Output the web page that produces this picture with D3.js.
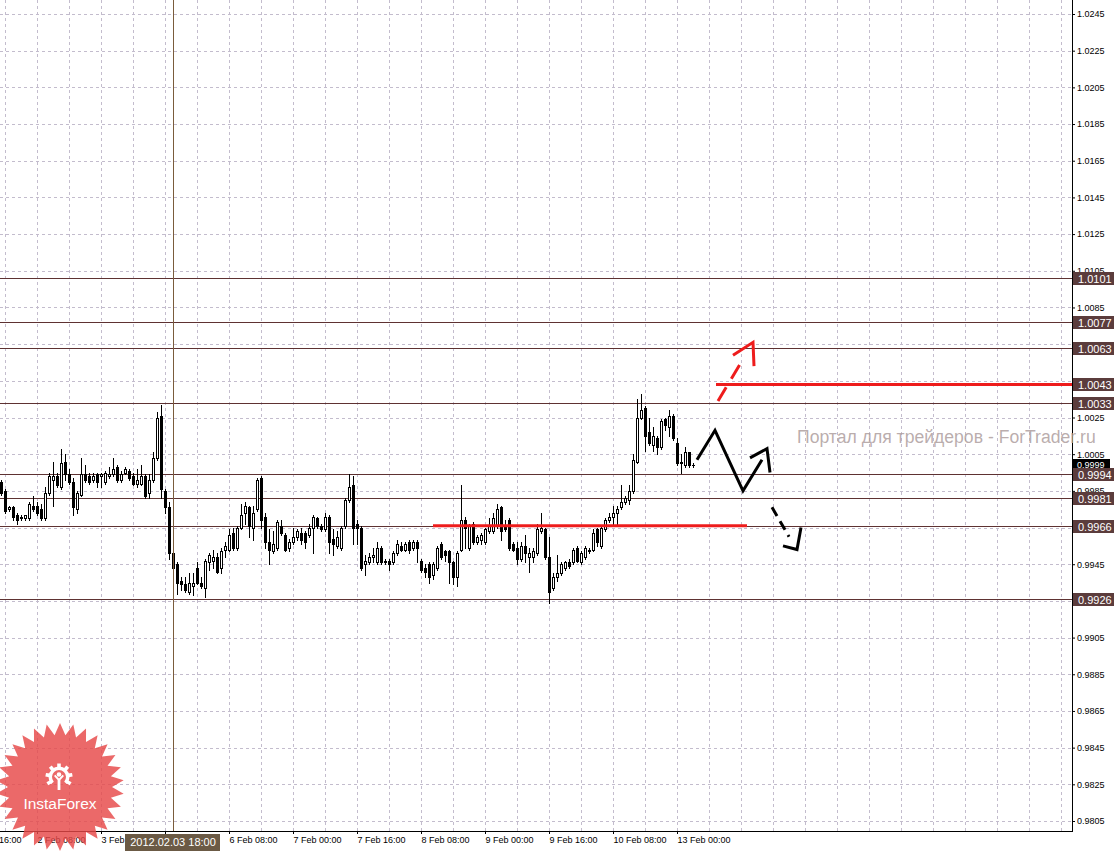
<!DOCTYPE html>
<html>
<head>
<meta charset="utf-8">
<script src="https://cdn.jsdelivr.net/npm/d3@7"></script>
<style>
  body { margin: 0; background: #fff; }
  svg { display: block; font-family: "Liberation Sans", Arial, sans-serif; }
</style>
</head>
<body>
<div id="chart"></div>
<script>
// USD/CHF H1 candles, one per bar index
const opens = [
  0.9990,0.9985,0.9975,0.9976,0.9972,0.9970,0.9970,0.9970,0.9977,0.9977,
  0.9975,0.9970,0.9984,0.9991,0.9993,0.9987,1.0001,0.9994,0.9990,0.9975,
  0.9983,0.9994,0.9993,0.9991,0.9994,0.9993,0.9990,0.9993,0.9994,0.9998,
  0.9991,0.9995,0.9996,0.9993,0.9989,0.9989,0.9993,0.9984,0.9991,1.0003,
  1.0026,0.9985,0.9976,0.9951,0.9945,0.9936,0.9934,0.9930,0.9933,0.9943,
  0.9935,0.9932,0.9946,0.9947,0.9949,0.9943,0.9953,0.9953,0.9962,0.9954,
  0.9965,0.9973,0.9976,0.9965,0.9975,0.9992,0.9971,0.9957,0.9952,0.9954,
  0.9966,0.9961,0.9954,0.9957,0.9960,0.9962,0.9962,0.9961,0.9965,0.9970,
  0.9966,0.9964,0.9971,0.9959,0.9955,0.9954,0.9966,0.9980,0.9988,0.9967,
  0.9965,0.9945,0.9946,0.9949,0.9946,0.9954,0.9947,0.9947,0.9946,0.9951,
  0.9955,0.9953,0.9957,0.9954,0.9957,0.9947,0.9943,0.9945,0.9939,0.9943,
  0.9956,0.9952,0.9952,0.9946,0.9938,0.9953,0.9969,0.9954,0.9967,0.9957,
  0.9958,0.9957,0.9963,0.9963,0.9966,0.9976,0.9966,0.9969,0.9956,0.9954,
  0.9948,0.9955,0.9949,0.9949,0.9951,0.9963,0.9964,0.9949,0.9932,0.9938,
  0.9940,0.9943,0.9946,0.9946,0.9954,0.9946,0.9949,0.9953,0.9953,0.9964,
  0.9955,0.9964,0.9969,0.9971,0.9973,0.9976,0.9979,0.9980,0.9985,1.0001,
  1.0025,1.0030,1.0017,1.0010,1.0014,1.0009,1.0024,1.0020,1.0026,1.0011,
  1.0000,0.9999,1.0006,0.9999
];
const highs = [
  0.9991,0.9986,0.9977,0.9977,0.9973,0.9972,0.9972,0.9979,0.9982,0.9979,
  0.9978,0.9987,0.9995,1.0001,0.9995,1.0008,1.0005,0.9997,0.9992,0.9985,
  1.0003,0.9999,0.9995,0.9995,0.9995,0.9995,0.9996,0.9998,1.0003,0.9999,
  0.9996,0.9998,0.9997,0.9995,0.9997,0.9999,0.9994,0.9994,1.0006,1.0028,
  1.0032,0.9986,0.9979,0.9952,0.9946,0.9938,0.9938,0.9940,0.9940,0.9946,
  0.9938,0.9948,0.9951,0.9953,0.9951,0.9954,0.9957,0.9964,0.9965,0.9966,
  0.9978,0.9979,0.9977,0.9977,0.9992,0.9993,0.9973,0.9964,0.9963,0.9969,
  0.9969,0.9962,0.9959,0.9965,0.9964,0.9965,0.9963,0.9967,0.9972,0.9971,
  0.9967,0.9973,0.9972,0.9964,0.9963,0.9966,0.9981,0.9994,0.9993,0.9969,
  0.9966,0.9950,0.9951,0.9954,0.9957,0.9955,0.9948,0.9948,0.9952,0.9958,
  0.9957,0.9957,0.9958,0.9958,0.9958,0.9948,0.9945,0.9946,0.9946,0.9955,
  0.9957,0.9953,0.9953,0.9947,0.9952,0.9988,0.9971,0.9967,0.9968,0.9961,
  0.9962,0.9965,0.9970,0.9973,0.9978,0.9977,0.9969,0.9970,0.9957,0.9957,
  0.9957,0.9961,0.9954,0.9954,0.9967,0.9973,0.9965,0.9960,0.9940,0.9950,
  0.9946,0.9947,0.9948,0.9954,0.9955,0.9952,0.9955,0.9954,0.9964,0.9965,
  0.9966,0.9970,0.9973,0.9977,0.9977,0.9988,0.9982,0.9988,1.0005,1.0035,
  1.0038,1.0031,1.0025,1.0020,1.0015,1.0024,1.0025,1.0029,1.0027,1.0014,
  1.0005,1.0009,1.0006,1.0000
];
const lows = [
  0.9983,0.9973,0.9974,0.9969,0.9967,0.9969,0.9969,0.9969,0.9974,0.9972,
  0.9969,0.9969,0.9983,0.9977,0.9987,0.9986,0.9991,0.9989,0.9972,0.9973,
  0.9982,0.9990,0.9989,0.9990,0.9987,0.9987,0.9989,0.9992,0.9993,0.9990,
  0.9990,0.9994,0.9991,0.9988,0.9987,0.9988,0.9981,0.9981,0.9990,1.0002,
  0.9981,0.9973,0.9948,0.9942,0.9929,0.9931,0.9930,0.9929,0.9928,0.9934,
  0.9932,0.9927,0.9942,0.9943,0.9940,0.9940,0.9949,0.9952,0.9953,0.9953,
  0.9964,0.9967,0.9960,0.9958,0.9974,0.9965,0.9954,0.9945,0.9951,0.9953,
  0.9961,0.9952,0.9952,0.9956,0.9958,0.9956,0.9954,0.9960,0.9951,0.9965,
  0.9963,0.9963,0.9951,0.9950,0.9954,0.9953,0.9965,0.9979,0.9956,0.9956,
  0.9942,0.9939,0.9945,0.9946,0.9945,0.9945,0.9945,0.9942,0.9945,0.9950,
  0.9952,0.9952,0.9951,0.9953,0.9946,0.9941,0.9938,0.9935,0.9937,0.9942,
  0.9948,0.9947,0.9935,0.9934,0.9933,0.9952,0.9954,0.9953,0.9956,0.9956,
  0.9956,0.9956,0.9962,0.9962,0.9965,0.9958,0.9963,0.9953,0.9952,0.9945,
  0.9947,0.9946,0.9941,0.9946,0.9950,0.9962,0.9948,0.9924,0.9931,0.9936,
  0.9939,0.9942,0.9943,0.9945,0.9946,0.9945,0.9948,0.9951,0.9952,0.9955,
  0.9954,0.9963,0.9968,0.9967,0.9966,0.9975,0.9978,0.9978,0.9984,1.0000,
  1.0024,1.0007,1.0010,1.0007,1.0005,1.0008,1.0018,1.0015,1.0013,0.9999,
  0.9995,0.9998,0.9998,0.9998
];
const closes = [
  0.9984,0.9974,0.9976,0.9971,0.9969,0.9971,0.9972,0.9978,0.9975,0.9973,
  0.9970,0.9984,0.9993,0.9993,0.9988,1.0000,0.9994,0.9990,0.9976,0.9984,
  0.9994,0.9991,0.9990,0.9993,0.9990,0.9994,0.9995,0.9994,0.9997,0.9991,
  0.9994,0.9997,0.9992,0.9989,0.9991,0.9993,0.9982,0.9991,1.0003,1.0025,
  0.9986,0.9976,0.9951,0.9943,0.9935,0.9934,0.9931,0.9935,0.9935,0.9935,
  0.9933,0.9947,0.9950,0.9949,0.9941,0.9952,0.9955,0.9961,0.9954,0.9965,
  0.9972,0.9977,0.9966,0.9973,0.9991,0.9969,0.9957,0.9953,0.9956,0.9968,
  0.9962,0.9953,0.9957,0.9960,0.9963,0.9958,0.9957,0.9965,0.9971,0.9966,
  0.9964,0.9971,0.9957,0.9956,0.9960,0.9965,0.9980,0.9987,0.9965,0.9965,
  0.9943,0.9947,0.9949,0.9950,0.9954,0.9946,0.9946,0.9945,0.9951,0.9956,
  0.9953,0.9956,0.9953,0.9957,0.9954,0.9942,0.9941,0.9938,0.9945,0.9954,
  0.9949,0.9950,0.9946,0.9938,0.9951,0.9969,0.9965,0.9966,0.9957,0.9960,
  0.9961,0.9964,0.9966,0.9970,0.9975,0.9963,0.9964,0.9954,0.9953,0.9948,
  0.9955,0.9951,0.9951,0.9952,0.9964,0.9965,0.9949,0.9930,0.9938,0.9940,
  0.9945,0.9946,0.9944,0.9953,0.9947,0.9951,0.9954,0.9952,0.9962,0.9957,
  0.9965,0.9969,0.9971,0.9973,0.9975,0.9979,0.9981,0.9985,1.0002,1.0025,
  1.0029,1.0015,1.0011,1.0015,1.0009,1.0023,1.0021,1.0026,1.0014,1.0000,
  1.0001,1.0006,0.9999,0.9999
];

const priceTicks = [1.0245, 1.0225, 1.0205, 1.0185, 1.0165, 1.0145, 1.0125, 1.0105,
  1.0085, 1.0065, 1.0045, 1.0025, 1.0005, 0.9985, 0.9965, 0.9945, 0.9925, 0.9905,
  0.9885, 0.9865, 0.9845, 0.9825, 0.9805];

const timeLabels = ["1 Feb 16:00", "2 Feb 08:00", "3 Feb 00:00", "3 Feb 16:00", "6 Feb 08:00",
  "7 Feb 00:00", "7 Feb 16:00", "8 Feb 08:00", "9 Feb 00:00", "9 Feb 16:00",
  "10 Feb 08:00", "13 Feb 00:00"];
const timeLabelBars = [-7, 9, 25, 41, 57, 73, 89, 105, 121, 137, 153, 169];

const levels = [1.0101, 1.0077, 1.0063, 1.0033, 0.9994, 0.9981, 0.9966, 0.9926];
const redLevel = 1.0043;
const currentPrice = 0.9999;
const crosshairBar = 43;
const crosshairLabel = "2012.02.03 18:00";

// hand drawn forecast marks: [bar index, price]
const supportLine = [[108, 0.9966], [186.5, 0.9966]];
const resistanceLine = [[178.75, 1.0043], [267.75, 1.0043]];
const redArrowShaft = [[179.25, 1.0034], [185, 1.0055]];
const redArrowHead = [[183, 1.0059], [188, 1.0066], [188.25, 1.0053]];
const blackZigzag = [[174, 1.0002], [178.5, 1.0018], [185.5, 0.9985], [190.25, 1.0002]];
const blackZigzagHead = [[187.25, 1.0003], [191.5, 1.0008], [192.25, 0.9995]];
const blackDashShaft = [[192.75, 0.9976], [197, 0.9960]];
const blackDashHead = [[195.5, 0.9955], [199, 0.9953], [200, 0.9965]];

const width = 1114, height = 851;
const plotRight = 1072, plotBottom = 831;
const levelColor = "#5e3232";
const gridColor = "#c3bccd";

const svg = d3.select("#chart").append("svg")
  .attr("width", width)
  .attr("height", height);

svg.append("rect").attr("width", width).attr("height", height).attr("fill", "#fff");

// one bar every 4 px
const xScale = d3.scaleLinear().domain([0, 1]).range([1, 5]);
const yScale = d3.scaleLinear().domain([0.9805, 1.0245]).range([821, 14]);
const X = v => Math.round(xScale(v));
const Y = v => Math.round(yScale(v));

// grid
const grid = svg.append("g")
  .attr("stroke", gridColor)
  .attr("stroke-dasharray", "3,3")
  .attr("shape-rendering", "crispEdges");

grid.selectAll("line.h")
  .data(priceTicks)
  .join("line")
  .attr("class", "h")
  .attr("x1", 0).attr("x2", plotRight)
  .attr("y1", d => Y(d) + 0.5).attr("y2", d => Y(d) + 0.5);

grid.selectAll("line.v")
  .data(d3.range(1, 268, 8))
  .join("line")
  .attr("class", "v")
  .attr("x1", d => X(d) + 0.5).attr("x2", d => X(d) + 0.5)
  .attr("y1", 0).attr("y2", plotBottom);

// horizontal levels
svg.append("g")
  .selectAll("line")
  .data(levels)
  .join("line")
  .attr("x1", 0).attr("x2", plotRight)
  .attr("y1", d => Y(d) + 0.5).attr("y2", d => Y(d) + 0.5)
  .attr("stroke", levelColor)
  .attr("shape-rendering", "crispEdges");

// candles
const bars = opens.map((o, i) => ({ i, o, h: highs[i], l: lows[i], c: closes[i] }));
const candles = svg.append("g").attr("shape-rendering", "crispEdges");

candles.selectAll("rect.wick")
  .data(bars)
  .join("rect")
  .attr("class", "wick")
  .attr("x", d => X(d.i))
  .attr("width", 1)
  .attr("y", d => Y(d.h))
  .attr("height", d => Y(d.l) - Y(d.h) + 1)
  .attr("fill", "#000");

candles.selectAll("rect.body")
  .data(bars)
  .join("rect")
  .attr("class", "body")
  .attr("x", d => X(d.i) - 1)
  .attr("width", 3)
  .attr("y", d => Y(Math.max(d.o, d.c)))
  .attr("height", d => Y(Math.min(d.o, d.c)) - Y(Math.max(d.o, d.c)) + 1)
  .attr("fill", "#000");

candles.selectAll("rect.hollow")
  .data(bars.filter(d => d.c > d.o && Y(d.o) - Y(d.c) > 1))
  .join("rect")
  .attr("class", "hollow")
  .attr("x", d => X(d.i))
  .attr("width", 1)
  .attr("y", d => Y(d.c) + 1)
  .attr("height", d => Y(d.o) - Y(d.c) - 1)
  .attr("fill", "#fff");

// crosshair
svg.append("line")
  .attr("x1", X(crosshairBar) + 0.5).attr("x2", X(crosshairBar) + 0.5)
  .attr("y1", 0).attr("y2", plotBottom)
  .attr("stroke", "#7a5c3c")
  .attr("shape-rendering", "crispEdges");

// forecast marks
const line = d3.line().x(d => xScale(d[0])).y(d => yScale(d[1]));

svg.append("path").attr("d", line(supportLine))
  .attr("stroke", "#ee1c1c").attr("stroke-width", 3).attr("fill", "none");
svg.append("path").attr("d", line(resistanceLine))
  .attr("stroke", "#ee1c1c").attr("stroke-width", 3).attr("fill", "none");

svg.append("path").attr("d", line(redArrowShaft))
  .attr("stroke", "#ee1c1c").attr("stroke-width", 3).attr("fill", "none")
  .attr("stroke-dasharray", "16,10");
svg.append("path").attr("d", line(redArrowHead))
  .attr("stroke", "#ee1c1c").attr("stroke-width", 3).attr("fill", "none");

svg.append("path").attr("d", line(blackZigzag))
  .attr("stroke", "#000").attr("stroke-width", 3).attr("fill", "none");
svg.append("path").attr("d", line(blackZigzagHead))
  .attr("stroke", "#000").attr("stroke-width", 3).attr("fill", "none");

svg.append("path").attr("d", line(blackDashShaft))
  .attr("stroke", "#000").attr("stroke-width", 3).attr("fill", "none")
  .attr("stroke-dasharray", "10,6");
svg.append("path").attr("d", line(blackDashHead))
  .attr("stroke", "#000").attr("stroke-width", 3).attr("fill", "none");

// axes
const yAxis = d3.axisRight(yScale)
  .tickValues(priceTicks)
  .tickFormat(d3.format(".4f"))
  .tickSize(3)
  .tickPadding(2);

const yAxisG = svg.append("g")
  .attr("transform", `translate(${plotRight},0)`)
  .call(yAxis);
yAxisG.select(".domain").remove();
yAxisG.attr("font-family", null).attr("font-size", 9);
yAxisG.selectAll("text").attr("fill", "#000");

const xAxis = d3.axisBottom(xScale)
  .tickValues(timeLabelBars)
  .tickFormat((d, i) => timeLabels[i])
  .tickSize(3)
  .tickPadding(3);

const xAxisG = svg.append("g")
  .attr("transform", `translate(0,${plotBottom})`)
  .call(xAxis);
xAxisG.select(".domain").remove();
xAxisG.attr("font-family", null).attr("font-size", 9);
xAxisG.selectAll("text").attr("text-anchor", "start").attr("dx", 0).attr("fill", "#000");

svg.append("line")
  .attr("x1", plotRight + 0.5).attr("x2", plotRight + 0.5)
  .attr("y1", 0).attr("y2", plotBottom + 1)
  .attr("stroke", "#000").attr("shape-rendering", "crispEdges");
svg.append("line")
  .attr("x1", 0).attr("x2", plotRight + 1)
  .attr("y1", plotBottom + 0.5).attr("y2", plotBottom + 0.5)
  .attr("stroke", "#000").attr("shape-rendering", "crispEdges");

// price labels of the levels
const fmt = d3.format(".4f");

svg.append("rect")
  .attr("x", plotRight + 1).attr("y", Y(currentPrice) - 6)
  .attr("width", 37).attr("height", 10)
  .attr("fill", "#000");
svg.append("text")
  .attr("x", plotRight + 5).attr("y", Y(currentPrice) + 3)
  .attr("font-size", 9).attr("fill", "#fff")
  .text(fmt(currentPrice));

const levelTags = svg.append("g")
  .selectAll("g")
  .data(levels.concat([redLevel]))
  .join("g")
  .attr("transform", d => `translate(${plotRight + 1},${Y(d)})`);

levelTags.append("rect")
  .attr("x", 0).attr("y", -6)
  .attr("width", 41).attr("height", 13)
  .attr("fill", "#5b3c3c");
levelTags.append("text")
  .attr("x", 5).attr("y", 4.5)
  .attr("font-size", 11).attr("fill", "#fff")
  .text(d => fmt(d));

// crosshair time tag
const chX = X(crosshairBar);
svg.append("rect")
  .attr("x", chX - 48).attr("y", plotBottom + 3)
  .attr("width", 95).attr("height", 17)
  .attr("fill", "#6b5a45");
svg.append("text")
  .attr("x", chX).attr("y", plotBottom + 15)
  .attr("text-anchor", "middle")
  .attr("font-size", 11).attr("fill", "#fff")
  .text(crosshairLabel);

// watermark
svg.append("text")
  .attr("x", 797).attr("y", 443)
  .attr("font-size", 17.6)
  .attr("fill", "#ae9e9e")
  .attr("fill-opacity", 0.85)
  .text("Портал для трейдеров - ForTrader.ru");

// InstaForex badge
const badge = svg.append("g").attr("transform", "translate(60,787)");
const starPts = d3.range(60).map(k => [k * Math.PI / 30, k % 2 ? 52 : 64]);
badge.append("path")
  .attr("d", d3.lineRadial().curve(d3.curveLinearClosed)(starPts))
  .attr("fill", "#e64848")
  .attr("fill-opacity", 0.82);

const icon = badge.append("g").attr("transform", "translate(-1,-10)").attr("fill", "#fff");
icon.append("path")
  .attr("d", d3.arc().innerRadius(7).outerRadius(10.5).startAngle(-2.3).endAngle(2.3)());
d3.range(-2.1, 2.2, 0.7).forEach(a => {
  icon.append("rect")
    .attr("x", -1.8).attr("y", -13.5)
    .attr("width", 3.6).attr("height", 4)
    .attr("transform", `rotate(${a * 180 / Math.PI})`);
});
icon.append("circle").attr("cx", 0).attr("cy", -2.5).attr("r", 2.3);
icon.append("path")
  .attr("d", "M-5,-1 L-1.4,3 L-1.4,13 L1.4,13 L1.4,3 L5,-1 L3.6,-2.2 L0,1.4 L-3.6,-2.2 Z");

badge.append("text")
  .attr("x", 0).attr("y", 22)
  .attr("text-anchor", "middle")
  .attr("font-size", 15.5)
  .attr("fill", "#fff")
  .text("InstaForex");
</script>
</body>
</html>
